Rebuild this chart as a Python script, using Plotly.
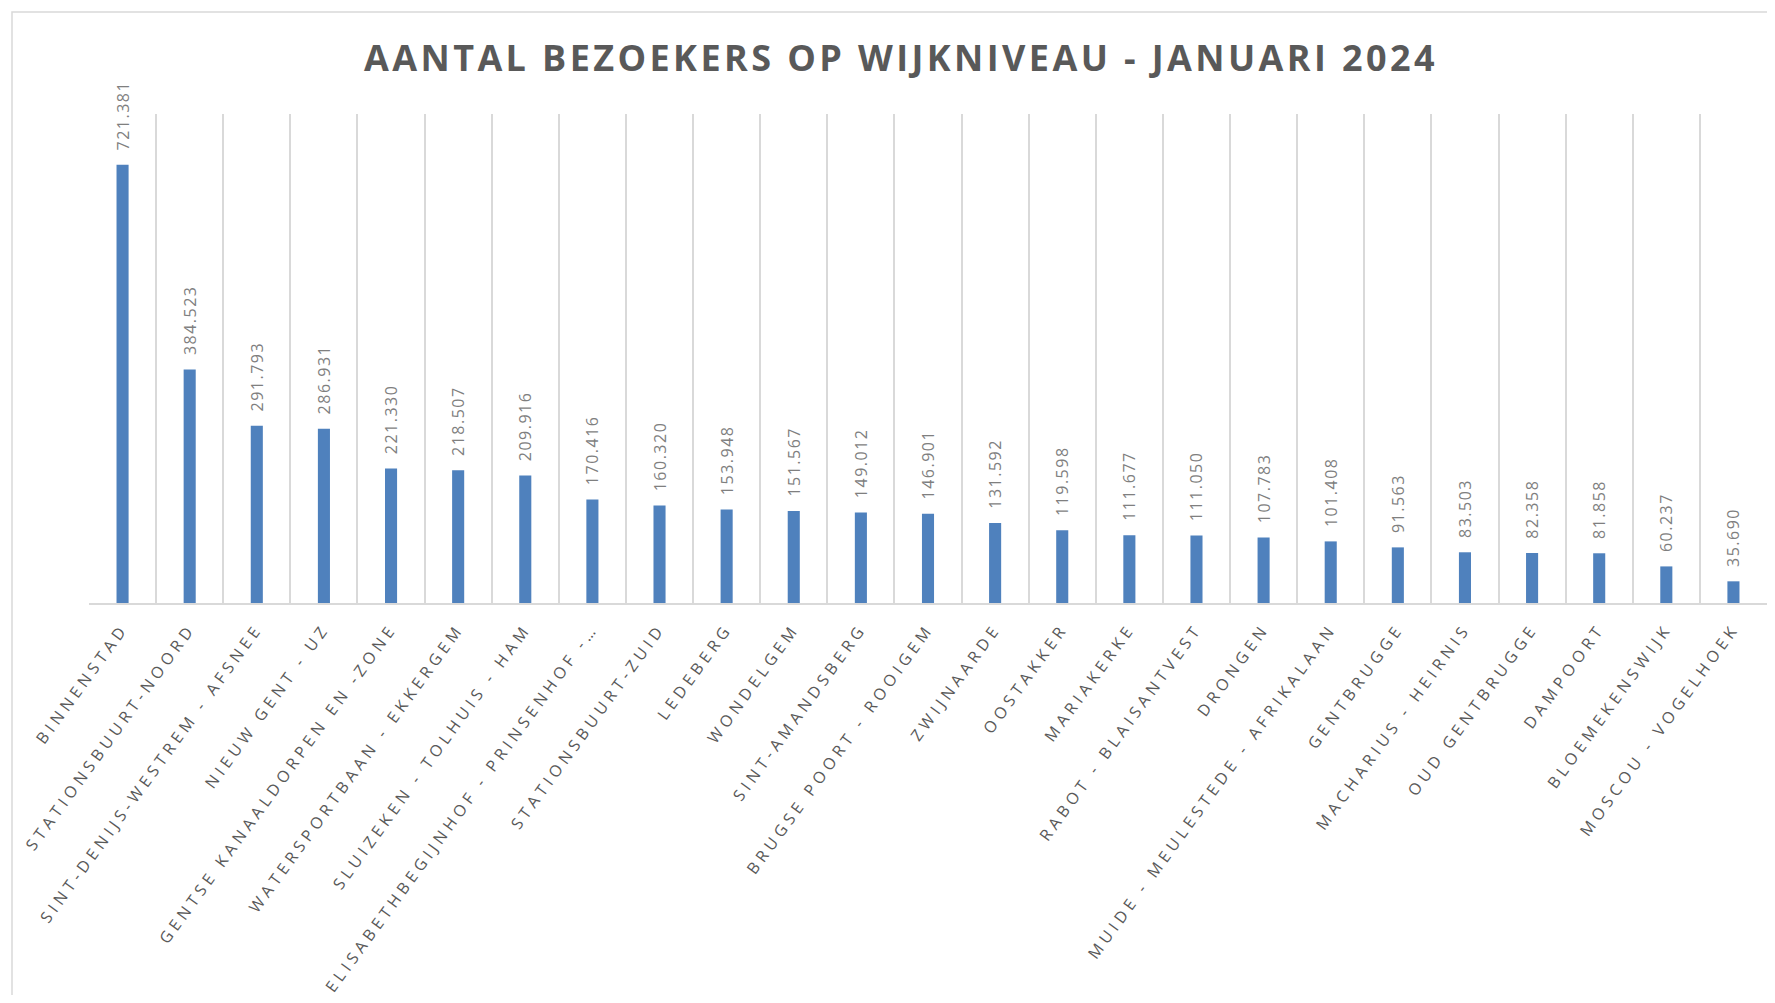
import plotly.graph_objects as go

categories = [
    "BINNENSTAD", "STATIONSBUURT-NOORD", "SINT-DENIJS-WESTREM - AFSNEE",
    "NIEUW GENT - UZ", "GENTSE KANAALDORPEN EN -ZONE", "WATERSPORTBAAN - EKKERGEM",
    "SLUIZEKEN - TOLHUIS - HAM", "ELISABETHBEGIJNHOF - PRINSENHOF -…",
    "STATIONSBUURT-ZUID", "LEDEBERG", "WONDELGEM", "SINT-AMANDSBERG",
    "BRUGSE POORT - ROOIGEM", "ZWIJNAARDE", "OOSTAKKER", "MARIAKERKE",
    "RABOT - BLAISANTVEST", "DRONGEN", "MUIDE - MEULESTEDE - AFRIKALAAN",
    "GENTBRUGGE", "MACHARIUS - HEIRNIS", "OUD GENTBRUGGE", "DAMPOORT",
    "BLOEMEKENSWIJK", "MOSCOU - VOGELHOEK",
]
visitors = [
    721381, 384523, 291793, 286931, 221330, 218507, 209916, 170416, 160320,
    153948, 151567, 149012, 146901, 131592, 119598, 111677, 111050, 107783,
    101408, 91563, 83503, 82358, 81858, 60237, 35690,
]
title_text = "AANTAL BEZOEKERS OP WIJKNIVEAU - JANUARI 2024"

# page body has an 8px margin; figure coordinates = screen - 8
W, H = 1759, 987
L, R, T, B = 81, 0, 106, 392
pw, ph = W - L - R, H - T - B

def px_to_paper_x(px):
    return (px - L) / pw

def px_to_paper_y(py):
    return (H - B - py) / ph

FONT = "Open Sans, sans-serif"
ticktext = ['<span style="letter-spacing:4.5px">' + c + '</span>' for c in categories]

fig = go.Figure(
    go.Bar(
        x=list(range(len(categories))),
        y=visitors,
        marker=dict(color="#4F81BD", line=dict(width=0)),
        width=0.18,
        texttemplate='<span style="letter-spacing:1.5px">\u00a0\u00a0%{y:,.0f}</span>',
        textposition="outside",
        textangle=-90,
        constraintext="none",
        textfont=dict(family=FONT, size=16, color="#7F7F7F"),
        cliponaxis=False,
        hoverinfo="skip",
    )
)

fig.update_layout(
    width=W, height=H, autosize=False,
    separators=",.",
    paper_bgcolor="white", plot_bgcolor="white",
    margin=dict(l=L, r=R, t=T, b=B, pad=0),
    showlegend=False,
    title=dict(
        text='<span style="letter-spacing:3.4px">' + title_text + '</span>',
        x=px_to_paper_x(893), xref="paper", xanchor="center",
        y=1 - 50 / H, yref="container", yanchor="middle",
        font=dict(family=FONT, size=36, color="#595959", weight="bold"),
    ),
    xaxis=dict(
        type="linear",
        range=[-0.5, len(categories) - 0.5],
        tickmode="array",
        tickvals=list(range(len(categories))),
        ticktext=ticktext,
        tickangle=-54,
        ticklabelstandoff=8,
        tickfont=dict(family=FONT, size=16, color="#595959"),
        showgrid=False,
        showline=True, linecolor="#D9D9D9", linewidth=1.5,
        ticks="", zeroline=False,
    ),
    xaxis2=dict(
        overlaying="x", matches="x", range=[-0.5, len(categories) - 0.5],
        tickmode="array",
        tickvals=[i - 0.5 for i in range(len(categories) + 1)],
        showticklabels=False, showgrid=True, gridcolor="#D9D9D9", gridwidth=1.5,
        ticks="", zeroline=False, showline=False,
    ),
    yaxis=dict(range=[0, 805000], visible=False, showgrid=False, zeroline=False),
    shapes=[
        dict(type="rect", xref="paper", yref="paper",
             x0=px_to_paper_x(4), x1=px_to_paper_x(W + 20),
             y0=px_to_paper_y(H + 20), y1=px_to_paper_y(4),
             line=dict(color="#D9D9D9", width=1.5), fillcolor="rgba(0,0,0,0)", layer="below"),
    ],
)

# invisible trace to activate the grid axis
fig.add_trace(go.Scatter(x=[0], y=[0], xaxis="x2", mode="markers",
                         marker=dict(opacity=0), hoverinfo="skip", showlegend=False))

fig.write_html("out.html")
